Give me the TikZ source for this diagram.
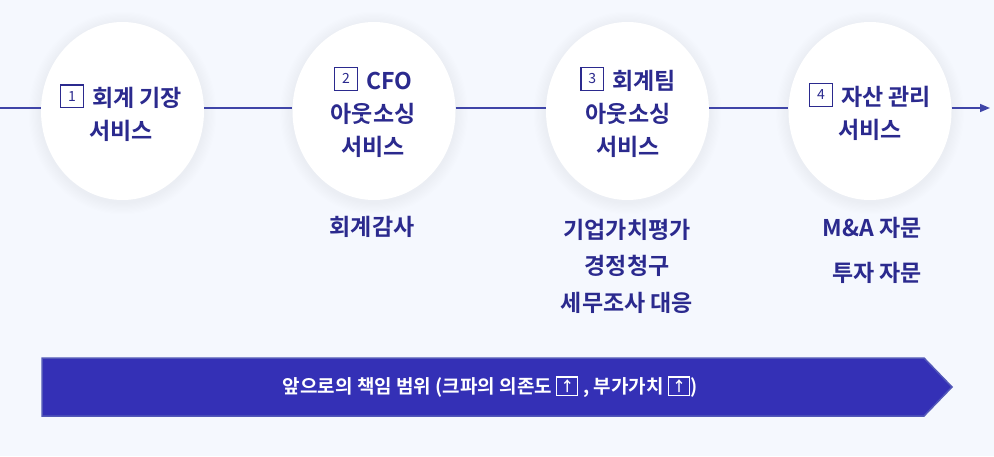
\documentclass[tikz,border=0pt]{standalone}
\usepackage{fontspec}
\setmainfont{Noto Sans CJK KR}[BoldFont={Noto Sans CJK KR Bold}]
\usetikzlibrary{shapes.geometric,arrows.meta}
\definecolor{bgc}{HTML}{F5F8FE}
\definecolor{navy}{HTML}{2B2A8E}
\definecolor{linec}{HTML}{3F45A8}
\definecolor{bannerfill}{HTML}{3430B6}
\definecolor{bannerline}{HTML}{5258B8}
\definecolor{shadowc}{HTML}{CDD1E4}
\newcommand{\numbox}[1]{\raisebox{4pt}{\setlength\fboxsep{0pt}\setlength\fboxrule{1.3pt}\fbox{\parbox[c][21.4pt][c]{21.4pt}{\centering\fontsize{14}{14}\selectfont\mdseries #1}}}}
\newcommand{\upbox}{\raisebox{3pt}{\setlength\fboxsep{0pt}\setlength\fboxrule{1.2pt}\fbox{\parbox[c][17.6pt][c]{19.6pt}{\centering\fontsize{14}{14}\selectfont ↑}}}}
\tikzset{
  stage/.style={ellipse, fill=white, minimum width=163pt, minimum height=178pt, inner sep=0pt},
  stagetext/.style={align=center, text=navy, font=\fontsize{23}{33}\selectfont\bfseries, inner sep=0pt},
  subtext/.style={align=center, text=navy, font=\fontsize{23}{36.5}\selectfont\bfseries, inner sep=0pt},
  conn/.style={draw=linec, line width=1.5pt},
  bannertext/.style={text=white, font=\fontsize{19}{19}\selectfont\bfseries, inner sep=0pt}
}
\begin{document}
\begin{tikzpicture}[x=1pt,y=-1pt]
\useasboundingbox (0,0) rectangle (994,456);
\fill[bgc] (0,0) rectangle (994,456);
% shadows
\foreach \cx in {122.5,374,627.5,870}{
  \foreach \i in {1,...,10}{
    \fill[shadowc, opacity=0.025] (\cx,113) ellipse ({81.5+1.2*\i} and {89+1.2*\i});
  }
}
% stages
\node[stage] (c1) at (122.5,111) {};
\node[stage] (c2) at (374,111) {};
\node[stage] (c3) at (627.5,111) {};
\node[stage] (c4) at (870,111) {};
\coordinate (L) at (0,108);
\coordinate (R) at (990,108);
\draw[conn] (L) -- ([yshift=3pt]c1.west);
\draw[conn] ([yshift=3pt]c1.east) -- ([yshift=3pt]c2.west);
\draw[conn] ([yshift=3pt]c2.east) -- ([yshift=3pt]c3.west);
\draw[conn] ([yshift=3pt]c3.east) -- ([yshift=3pt]c4.west);
\draw[conn, -{Triangle[length=10pt,width=8pt]}] ([yshift=3pt]c4.east) -- (R);
% stage texts
\node[stagetext] (s1) at (121,113) {\numbox{1}\hspace{8pt}회계 기장\\서비스};
\node[stagetext] (s2) at (373,112) {\numbox{2}\hspace{8pt}CFO\\아웃소싱\\서비스};
\node[stagetext] (s3) at (628,112) {\numbox{3}\hspace{8pt}회계팀\\아웃소싱\\서비스};
\node[stagetext] (s4) at (870,111.5) {\numbox{4}\hspace{8pt}자산 관리\\서비스};
% sub texts
\node[subtext] (d2) at (372,227) {회계감사};
\node[subtext] (d3) at (627,266) {기업가치평가\\경정청구\\세무조사 대응};
\node[subtext] (d4a) at (872,228) {M\&A 자문};
\node[subtext] (d4b) at (877,273) {투자 자문};
% banner
\draw[fill=bannerfill, draw=bannerline, line width=1.5pt] (42,358) -- (924,358) -- (952,387) -- (924,416) -- (42,416) -- cycle;
\node[bannertext] (b) at (490,387) {앞으로의 책임 범위 (크파의 의존도 \upbox\hspace{5pt}, 부가가치 \upbox)};
\end{tikzpicture}
\end{document}
